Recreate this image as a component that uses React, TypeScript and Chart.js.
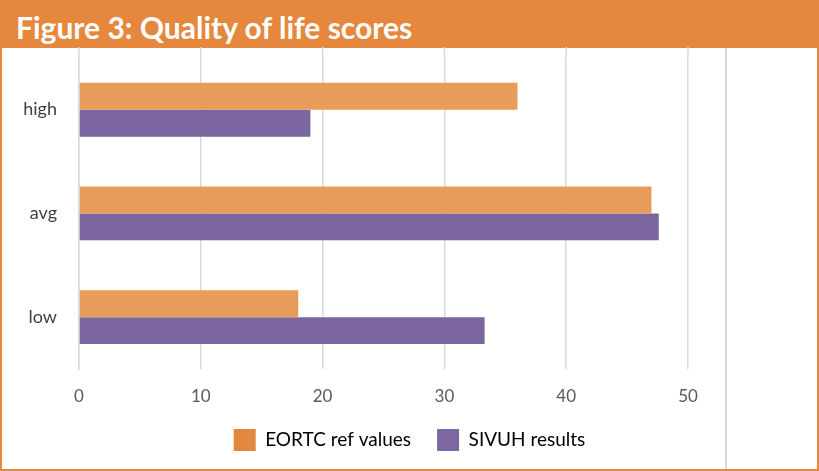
import React, { useEffect, useRef } from "react";
import { Chart, registerables } from "chart.js";

Chart.register(...registerables);

const categories = ["high", "avg", "low"];
const eortcValues = [36, 47, 18];
const sivuhValues = [19, 47.6, 33.3];
const seriesNames = ["EORTC ref values", "SIVUH results"];
const xTicks = [0, 10, 20, 30, 40, 50];

const BAR_ORANGE = "#E89C5A";
const BAR_PURPLE = "#7B66A0";
const LEG_ORANGE = "#E3883F";
const LEG_PURPLE = "#7D67A3";
const BANNER = "#E5883E";
const GRID = "#D9D9D9";
const FONT = "Lato, 'Open Sans', sans-serif";

const centerLegend = {
  id: "centerLegend",
  afterLayout(chart: any) {
    const l = chart.legend;
    if (!l) return;
    l.left = 0;
    l.right = chart.width;
    l.width = chart.width;
  },
};

// extends the vertical grid lines up to the title banner
const gridExtend = {
  id: "gridExtend",
  beforeDatasetsDraw(chart: any) {
    const { ctx, chartArea, scales } = chart;
    ctx.save();
    ctx.strokeStyle = GRID;
    ctx.lineWidth = 1.5;
    xTicks.forEach((v) => {
      const x = scales.x.getPixelForValue(v);
      ctx.beginPath();
      ctx.moveTo(x, 14);
      ctx.lineTo(x, chartArea.top);
      ctx.stroke();
    });
    ctx.restore();
  },
};

export default function App() {
  const ref = useRef<HTMLCanvasElement | null>(null);

  useEffect(() => {
    if (!ref.current) return;
    const chart = new Chart(ref.current, {
      type: "bar",
      data: {
        labels: categories,
        datasets: [
          {
            label: seriesNames[0],
            data: eortcValues,
            backgroundColor: BAR_ORANGE,
            barPercentage: 1,
            categoryPercentage: 0.52,
          },
          {
            label: seriesNames[1],
            data: sivuhValues,
            backgroundColor: BAR_PURPLE,
            barPercentage: 1,
            categoryPercentage: 0.52,
          },
        ],
      },
      plugins: [centerLegend, gridExtend],
      options: {
        indexAxis: "y",
        responsive: false,
        animation: false,
        layout: { padding: { top: 0, right: 129, left: 0, bottom: 8 } },
        scales: {
          x: {
            min: 0,
            max: 50,
            afterBuildTicks: (axis: any) => {
              axis.ticks = xTicks.map((v) => ({ value: v }));
            },
            grid: { color: GRID, lineWidth: 1.5, drawTicks: false },
            border: { display: false },
            ticks: {
              padding: 17,
              color: "#595959",
              font: { family: FONT, size: 17 },
            },
            afterFit: (axis: any) => {
              axis.height = 34;
            },
          },
          y: {
            grid: { display: false },
            border: { color: GRID, width: 1.5 },
            ticks: {
              padding: 14,
              color: "#404040",
              font: { family: FONT, size: 18 },
            },
            afterFit: (axis: any) => {
              axis.width = 77;
            },
          },
        },
        plugins: {
          tooltip: { enabled: false },
          legend: {
            position: "bottom",
            labels: {
              boxWidth: 22,
              boxHeight: 22,
              padding: 26,
              color: "#262626",
              font: { family: FONT, size: 19 },
              generateLabels: () => [
                { text: seriesNames[0], fillStyle: LEG_ORANGE, strokeStyle: LEG_ORANGE, lineWidth: 0, datasetIndex: 0 },
                { text: seriesNames[1], fillStyle: LEG_PURPLE, strokeStyle: LEG_PURPLE, lineWidth: 0, datasetIndex: 1 },
              ] as any,
            },
          },
        },
      },
    });
    return () => chart.destroy();
  }, []);

  return (
    <div
      style={{
        position: "fixed",
        left: 0,
        top: 0,
        width: 819,
        height: 471,
        boxSizing: "border-box",
        border: `2px solid ${BANNER}`,
        background: "#fff",
        overflow: "hidden",
      }}
    >
      <div
        style={{
          height: 46,
          background: BANNER,
          color: "#fff",
          fontFamily: FONT,
          fontWeight: 700,
          fontSize: 30,
          lineHeight: "50px",
          paddingLeft: 14,
          whiteSpace: "nowrap",
        }}
      >
        Figure 3: Quality of life scores
      </div>
      <div
        style={{
          position: "absolute",
          left: 723,
          top: 46,
          width: 2,
          bottom: 0,
          background: GRID,
        }}
      />
      <canvas
        ref={ref}
        width={815}
        height={436}
        style={{ position: "absolute", left: 0, top: 31 }}
      />
    </div>
  );
}
